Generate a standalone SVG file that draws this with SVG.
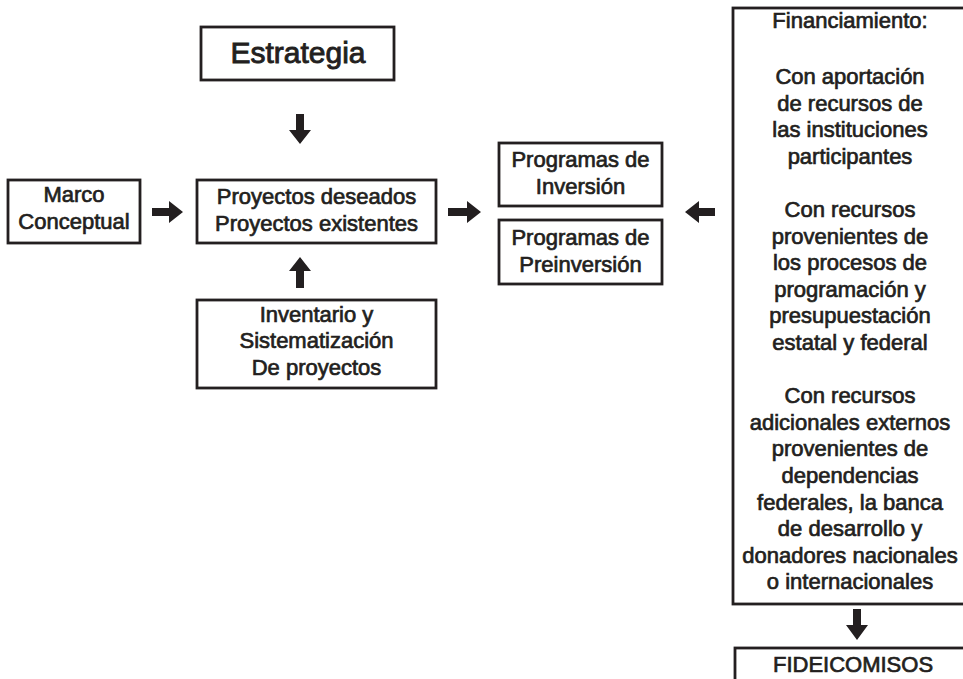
<svg xmlns="http://www.w3.org/2000/svg" width="963" height="679" viewBox="0 0 963 679">
<style>
.box{fill:#fff;stroke:#231f20;stroke-width:2.8}
.t{font-family:"Liberation Sans",Arial,sans-serif;font-size:22px;fill:#231f20;stroke:#231f20;stroke-width:0.7;text-anchor:middle}
.big{font-size:30px;stroke-width:0.9}
.arr{fill:#231f20}
</style>
<rect width="963" height="679" fill="#fff"/>
<g id="estrategia">
<rect class="box" x="201" y="27" width="193" height="53"/>
<text class="t big" x="298" y="63">Estrategia</text>
</g>
<g id="marco">
<rect class="box" x="8" y="180" width="132" height="63"/>
<text class="t" x="74" y="202">Marco</text>
<text class="t" x="74" y="229">Conceptual</text>
</g>
<g id="proyectos">
<rect class="box" x="197" y="180" width="239" height="63"/>
<text class="t" x="316.5" y="204">Proyectos deseados</text>
<text class="t" x="316.5" y="231">Proyectos existentes</text>
</g>
<g id="inventario">
<rect class="box" x="197" y="300" width="239" height="88"/>
<text class="t" x="316.5" y="322">Inventario y</text>
<text class="t" x="316.5" y="348">Sistematización</text>
<text class="t" x="316.5" y="375">De proyectos</text>
</g>
<g id="inversion">
<rect class="box" x="499" y="143" width="163" height="63"/>
<text class="t" x="580.5" y="167">Programas de</text>
<text class="t" x="580.5" y="194">Inversión</text>
</g>
<g id="preinversion">
<rect class="box" x="499" y="220" width="163" height="64"/>
<text class="t" x="580.5" y="245">Programas de</text>
<text class="t" x="580.5" y="272">Preinversión</text>
</g>
<g id="financiamiento">
<rect class="box" x="733" y="8" width="240" height="596"/>
<text class="t" x="850" y="28">Financiamiento:</text>
<text class="t" x="850" y="84">Con aportación</text>
<text class="t" x="850" y="110.6">de recursos de</text>
<text class="t" x="850" y="137.2">las instituciones</text>
<text class="t" x="850" y="163.8">participantes</text>
<text class="t" x="850" y="217">Con recursos</text>
<text class="t" x="850" y="243.6">provenientes de</text>
<text class="t" x="850" y="270.2">los procesos de</text>
<text class="t" x="850" y="296.8">programación y</text>
<text class="t" x="850" y="323.4">presupuestación</text>
<text class="t" x="850" y="350">estatal y federal</text>
<text class="t" x="850" y="403.2">Con recursos</text>
<text class="t" x="850" y="429.8">adicionales externos</text>
<text class="t" x="850" y="456.4">provenientes de</text>
<text class="t" x="850" y="483">dependencias</text>
<text class="t" x="850" y="509.6">federales, la banca</text>
<text class="t" x="850" y="536.2">de desarrollo y</text>
<text class="t" x="850" y="562.8">donadores nacionales</text>
<text class="t" x="850" y="589.4">o internacionales</text>
</g>
<g id="fideicomisos">
<rect class="box" x="735" y="648" width="240" height="50"/>
<text class="t" x="853" y="672">FIDEICOMISOS</text>
</g>
<g id="connectors">
<path class="arr" d="M296,114 H304 V130 H311 L300,144 L289,130 H296 Z"/>
<path class="arr" d="M296,288 H304 V271 H311 L300,257 L289,271 H296 Z"/>
<path class="arr" d="M152,208 H169 V201 L183,212 L169,223 V216 H152 Z"/>
<path class="arr" d="M448,208 H467 V201 L481,212 L467,223 V216 H448 Z"/>
<path class="arr" d="M715,208 H699 V201 L685,212 L699,223 V216 H715 Z"/>
<path class="arr" d="M853,609 H861 V625 H868 L857,640 L846,625 H853 Z"/>
</g>
</svg>
